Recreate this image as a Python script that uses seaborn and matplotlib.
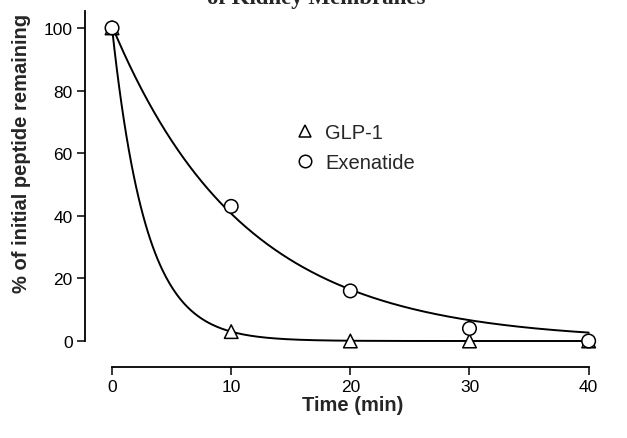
import numpy as np
import pandas as pd
import matplotlib
matplotlib.use("Agg")
import matplotlib.pyplot as plt
import seaborn as sns
from matplotlib.lines import Line2D

# ---- data ----
time_min = [0, 10, 20, 30, 40]
glp1 = [100, 3, 0, 0, 0]
exenatide = [100, 43, 16, 4, 0]
series_names = ["GLP-1", "Exenatide"]
x_ticks = [0, 10, 20, 30, 40]
y_ticks = [0, 20, 40, 60, 80, 100]


def exp_decay_fit(t, y):
    """Least-squares fit of y = A*exp(-k t) (grid over k)."""
    t = np.asarray(t, float)
    y = np.asarray(y, float)
    best = None
    for k in np.linspace(0.005, 2.0, 8000):
        e = np.exp(-k * t)
        A = np.dot(e, y) / np.dot(e, e)
        sse = np.sum((A * e - y) ** 2)
        if best is None or sse < best[0]:
            best = (sse, k, A)
    _, k, A = best
    return lambda tt: A * np.exp(-k * tt)


sns.set_theme(style="ticks")
plt.rcParams["font.family"] = ["Liberation Sans", "DejaVu Sans"]

W, H = 627, 439
fig = plt.figure(figsize=(W / 100, H / 100), dpi=100)
ax_left, ax_right, ax_top, ax_bot = 85, 622, 12, 368
ax = fig.add_axes([ax_left / W, 1 - ax_bot / H, (ax_right - ax_left) / W, (ax_bot - ax_top) / H])

pts = pd.DataFrame({
    "time": time_min * 2,
    "value": glp1 + exenatide,
    "peptide": [series_names[0]] * 5 + [series_names[1]] * 5,
})

tt = np.linspace(0, 40, 400)
fits = []
for name, vals in zip(series_names, [glp1, exenatide]):
    f = exp_decay_fit(time_min, vals)
    fits.append(pd.DataFrame({"time": tt, "value": f(tt), "peptide": name}))
fit_df = pd.concat(fits)

sns.lineplot(data=fit_df, x="time", y="value", units="peptide", estimator=None,
             color="black", linewidth=1.4, legend=False, ax=ax)
sns.scatterplot(data=pts, x="time", y="value", style="peptide",
                markers={"GLP-1": "^", "Exenatide": "o"}, s=95,
                facecolor="white", edgecolor="black", linewidth=1.1,
                legend=False, ax=ax, zorder=3)

ax.set_xlim(-2.27, 42.8)
ax.set_ylim(-8.3, 105.4)
ax.set_xticks(x_ticks)
ax.set_yticks(y_ticks)
ax.spines["top"].set_visible(False)
ax.spines["right"].set_visible(False)
ax.spines["left"].set_bounds(0, 105.4)
ax.spines["bottom"].set_bounds(0, 40)
for s in ("left", "bottom"):
    ax.spines[s].set_color("black")
    ax.spines[s].set_linewidth(1.3)
ax.tick_params(axis="both", colors="black", labelsize=12.5, length=6, width=1.1,
               direction="out", pad=3)
ax.set_xlabel("Time (min)", fontsize=14.5, fontweight="bold")
ax.set_ylabel("% of initial peptide remaining", fontsize=14.5, fontweight="bold")
ax.xaxis.label.set_verticalalignment("center")
ax.yaxis.label.set_verticalalignment("center")
ax.xaxis.set_label_coords((353 - ax_left) / (ax_right - ax_left), (ax_bot - 406) / (ax_bot - ax_top))
ax.yaxis.set_label_coords((22 - ax_left) / (ax_right - ax_left), (ax_bot - 153) / (ax_bot - ax_top))
ax.grid(False)

handles = [
    Line2D([], [], linestyle="none", marker="^", markersize=9, markerfacecolor="white",
           markeredgecolor="black", markeredgewidth=1.1, label=series_names[0]),
    Line2D([], [], linestyle="none", marker="o", markersize=9, markerfacecolor="white",
           markeredgecolor="black", markeredgewidth=1.1, label=series_names[1]),
]
ax.legend(handles=handles, frameon=False, fontsize=14.5, loc="upper left",
          bbox_to_anchor=(285 / W, 1 - 114 / H), bbox_transform=fig.transFigure,
          handletextpad=0.5, labelspacing=0.55, handlelength=1.0, borderpad=0)

fig.text(316 / W, 1 - 4 / H, "of Kidney Membranes", ha="center", va="baseline",
         fontsize=16.5, fontweight="bold", family=["Liberation Serif", "DejaVu Serif"])

fig.savefig("out.png", dpi=100, facecolor="white")
